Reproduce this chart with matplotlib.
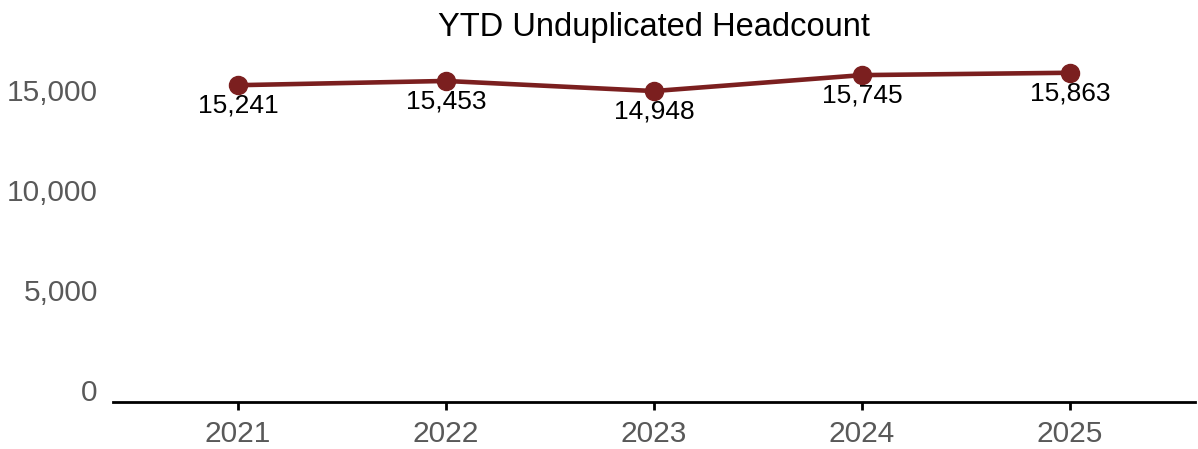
import matplotlib
matplotlib.use('Agg')
import matplotlib.pyplot as plt
from matplotlib.ticker import FuncFormatter

plt.rcParams['font.family'] = ['Liberation Sans', 'DejaVu Sans']

# data
years = ['2021', '2022', '2023', '2024', '2025']
headcount = [15241, 15453, 14948, 15745, 15863]
yticks = [0, 5000, 10000, 15000]

line_color = '#7b1f1f'
gray = '#595959'

fig = plt.figure(figsize=(11.98, 4.49), dpi=100)
ax = fig.add_axes([0.0943, 0.1047, 0.9032, 0.7839])

x = list(range(len(years)))
ax.plot(x, headcount, color=line_color, lw=3.3, marker='o', ms=13, zorder=3)

for xi, v in zip(x, headcount):
    ax.annotate(f'{v:,}', (xi, v), xytext=(0, -6), textcoords='offset points',
                ha='center', va='top', fontsize=19, color='black')

ax.set_xlim(-0.6, 4.6)
ax.set_ylim(-600, 17000)
ax.set_xticks(x)
ax.set_xticklabels(years)
ax.set_yticks(yticks)
ax.yaxis.set_major_formatter(FuncFormatter(lambda v, p: f'{int(v):,}'))

for s in ['top', 'right', 'left']:
    ax.spines[s].set_visible(False)
ax.spines['bottom'].set_linewidth(2)
ax.spines['bottom'].set_color('black')

ax.tick_params(axis='y', length=0, pad=11, labelsize=21.5, labelcolor=gray)
ax.tick_params(axis='x', length=6, width=2, pad=7, labelsize=21.5, labelcolor=gray,
               color='black', direction='out')

ax.set_title('YTD Unduplicated Headcount', fontsize=23.5, color='black', pad=10)

fig.savefig('out.png', dpi=100)
